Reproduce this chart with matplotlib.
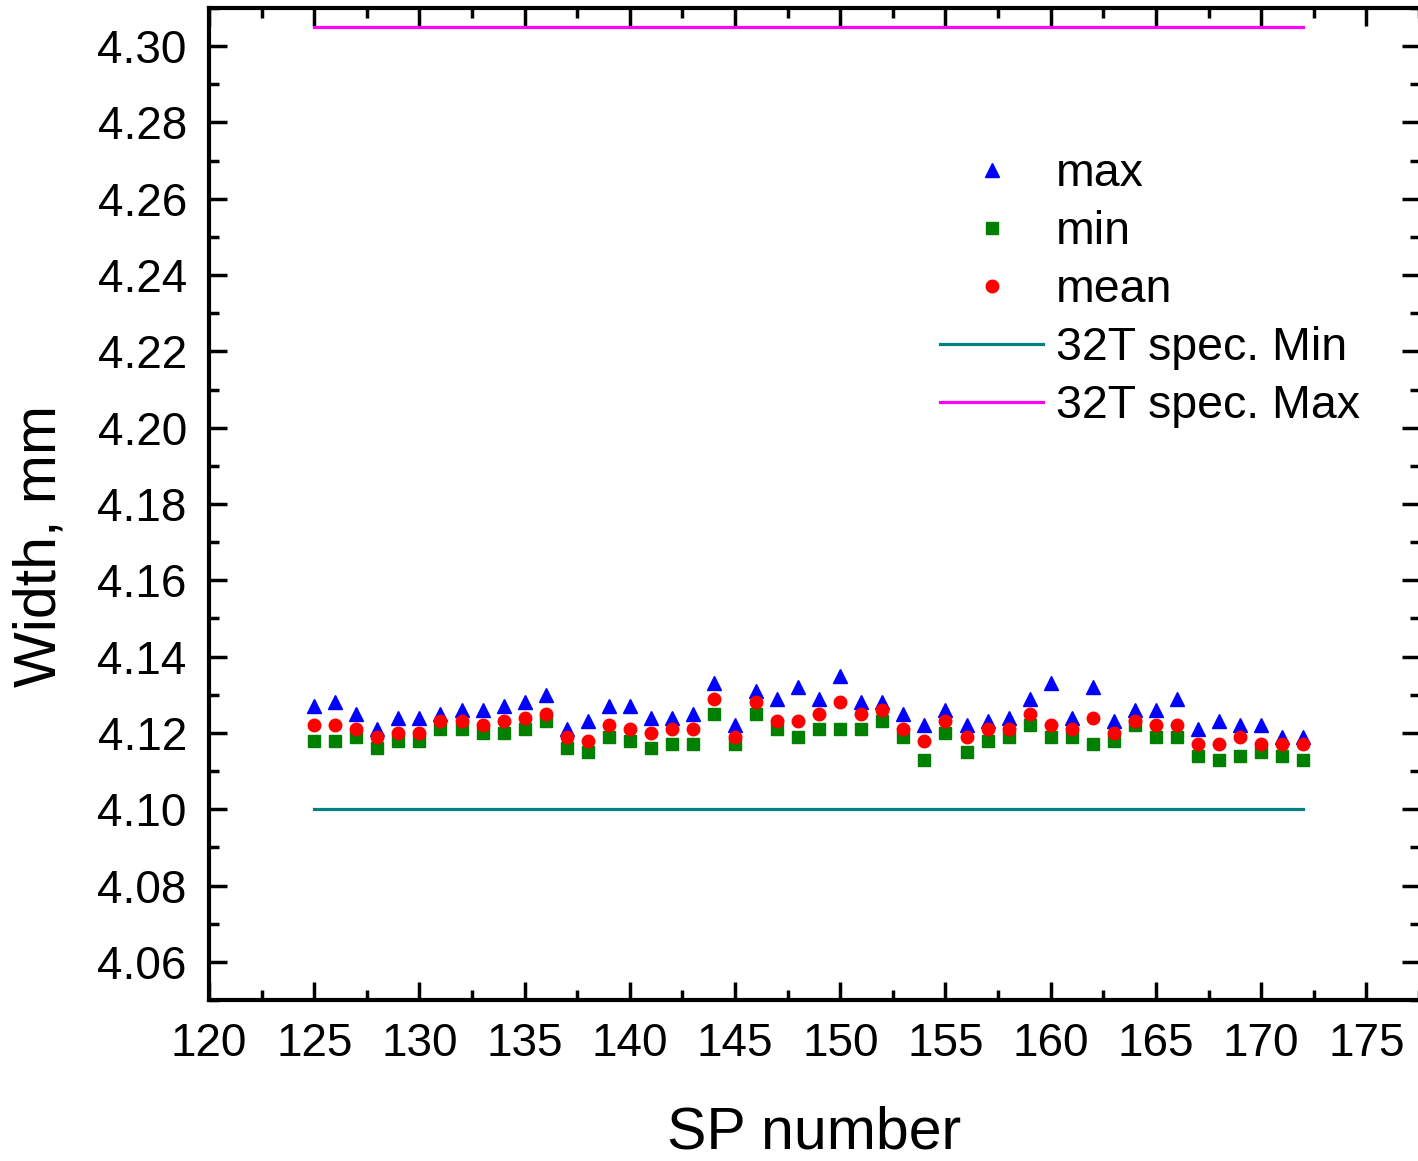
import numpy as np
import matplotlib.pyplot as plt
from matplotlib.ticker import MultipleLocator

plt.rcParams['font.family'] = ['Liberation Sans', 'DejaVu Sans']

# SP numbers 125..172
sp = list(range(125, 173))

w_max = [4.127, 4.128, 4.125, 4.121, 4.124, 4.124, 4.125, 4.126, 4.126, 4.127,
         4.128, 4.130, 4.121, 4.123, 4.127, 4.127, 4.124, 4.124, 4.125, 4.133,
         4.122, 4.131, 4.129, 4.132, 4.129, 4.135, 4.128, 4.128, 4.125, 4.122,
         4.126, 4.122, 4.123, 4.124, 4.129, 4.133, 4.124, 4.132, 4.123, 4.126,
         4.126, 4.129, 4.121, 4.123, 4.122, 4.122, 4.119, 4.119]
w_min = [4.118, 4.118, 4.119, 4.116, 4.118, 4.118, 4.121, 4.121, 4.120, 4.120,
         4.121, 4.123, 4.116, 4.115, 4.119, 4.118, 4.116, 4.117, 4.117, 4.125,
         4.117, 4.125, 4.121, 4.119, 4.121, 4.121, 4.121, 4.123, 4.119, 4.113,
         4.120, 4.115, 4.118, 4.119, 4.122, 4.119, 4.119, 4.117, 4.118, 4.122,
         4.119, 4.119, 4.114, 4.113, 4.114, 4.115, 4.114, 4.113]
w_mean = [4.122, 4.122, 4.121, 4.119, 4.120, 4.120, 4.123, 4.123, 4.122, 4.123,
          4.124, 4.125, 4.119, 4.118, 4.122, 4.121, 4.120, 4.121, 4.121, 4.129,
          4.119, 4.128, 4.123, 4.123, 4.125, 4.128, 4.125, 4.126, 4.121, 4.118,
          4.123, 4.119, 4.121, 4.121, 4.125, 4.122, 4.121, 4.124, 4.120, 4.123,
          4.122, 4.122, 4.117, 4.117, 4.119, 4.117, 4.117, 4.117]

spec_min = 4.10
spec_max = 4.305

fig = plt.figure(figsize=(14.18, 11.61), dpi=100)
ax = fig.add_axes([209/1418, 161/1161, 1211/1418, 992/1161])

ax.plot(sp, w_max, ls='none', marker='^', ms=9.5, color='#0000ff', label='max')
ax.plot(sp, w_min, ls='none', marker='s', ms=8, color='#008000', label='min')
ax.plot(sp, w_mean, ls='none', marker='o', ms=9, color='#ff0000', label='mean')
ax.plot([sp[0], sp[-1]], [spec_min, spec_min], color='#008080', lw=2.3, label='32T spec. Min')
ax.plot([sp[0], sp[-1]], [spec_max, spec_max], color='#ff00ff', lw=2.3, label='32T spec. Max')

ax.set_xlim(120, 177.55)
ax.set_ylim(4.05, 4.31)
ax.xaxis.set_major_locator(MultipleLocator(5))
ax.xaxis.set_minor_locator(MultipleLocator(2.5))
ax.yaxis.set_minor_locator(MultipleLocator(0.01))
ax.set_yticks(np.arange(4.06, 4.301, 0.02))
ax.yaxis.set_major_formatter(plt.FormatStrFormatter('%.2f'))

ax.tick_params(which='both', direction='in', top=True, right=True, width=2.5)
ax.tick_params(which='major', length=13, labelsize=33, pad=16)
ax.tick_params(which='minor', length=7)
for s in ax.spines.values():
    s.set_linewidth(3)

ax.set_xlabel('SP number', fontsize=42.5, va='center')
ax.set_ylabel('Width, mm', fontsize=42.5, va='center')
ax.xaxis.set_label_coords(0.5, -0.134)
ax.yaxis.set_label_coords(-0.1396, 0.458)

ax.legend(loc='upper left', bbox_to_anchor=(940/1418, 1 - 152/1161),
          bbox_transform=fig.transFigure, frameon=False, fontsize=33.5,
          numpoints=1, handlelength=2.22, handletextpad=0.28,
          labelspacing=0.3, borderpad=0, borderaxespad=0)

fig.savefig('out.png', dpi=100)
